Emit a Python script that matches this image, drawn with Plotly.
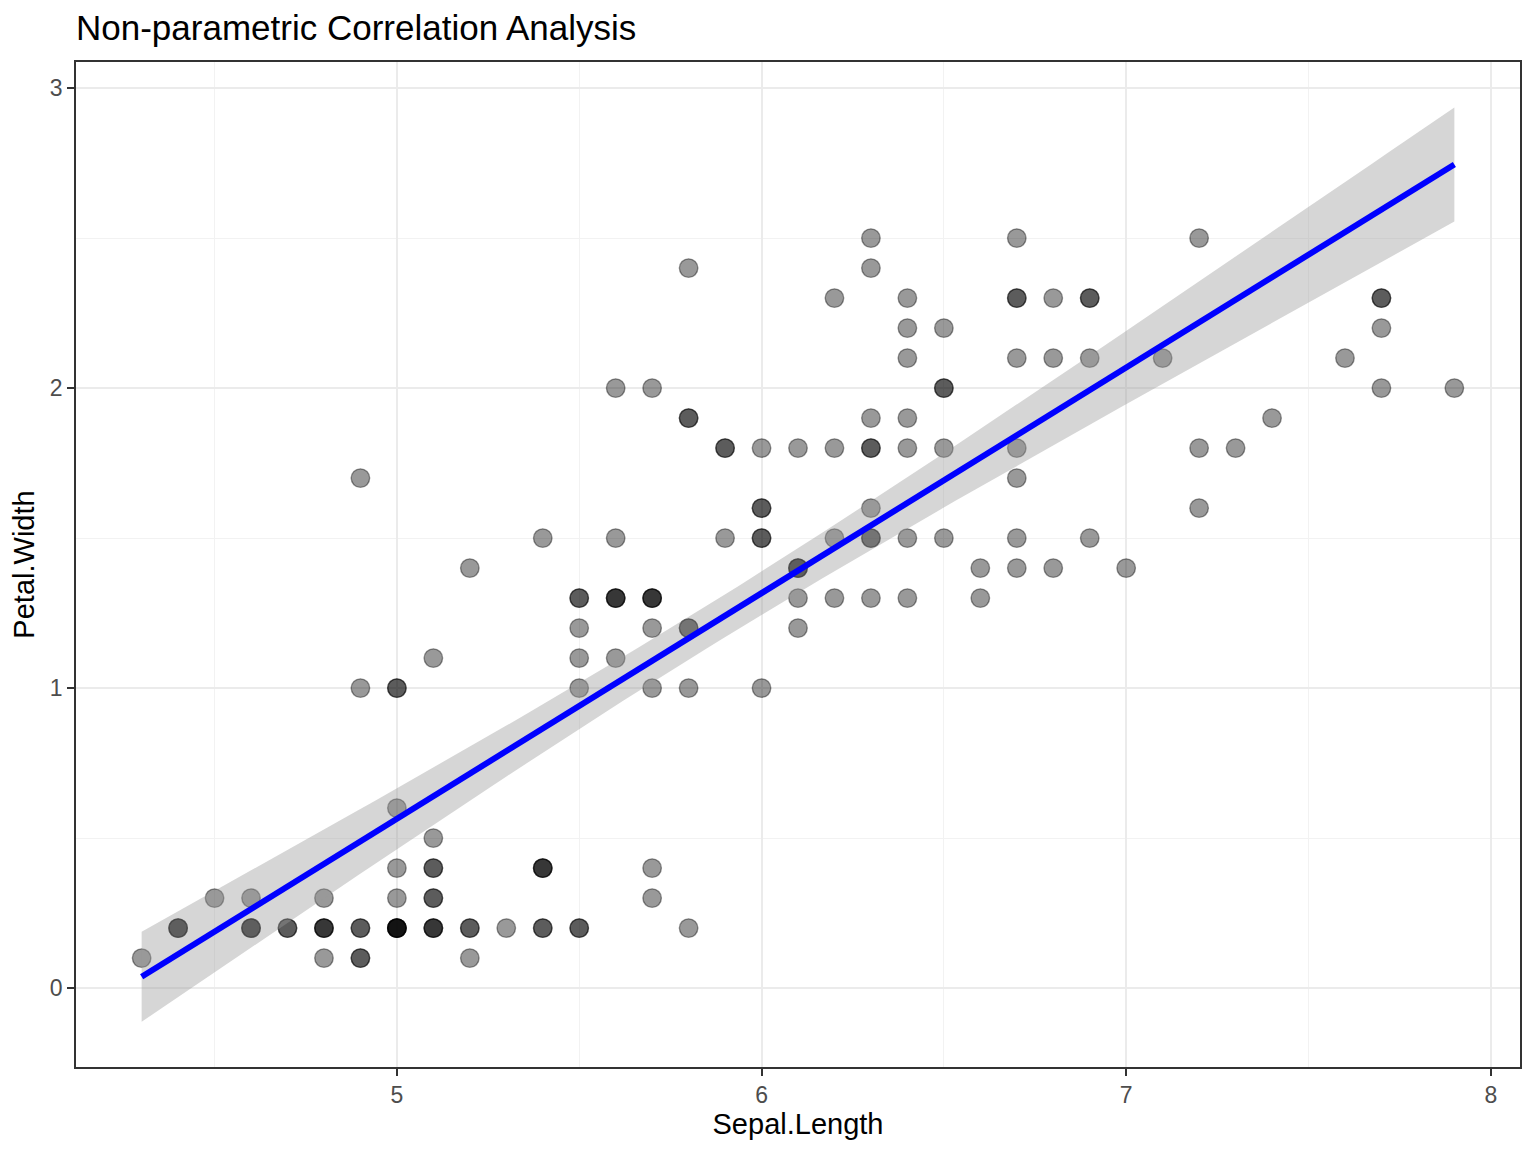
import numpy as np
import plotly.graph_objects as go

# iris: Sepal.Length vs Petal.Width
sepal_length = [
    5.1, 4.9, 4.7, 4.6, 5.0, 5.4, 4.6, 5.0, 4.4, 4.9, 5.4, 4.8, 4.8, 4.3, 5.8, 5.7, 5.4, 5.1, 5.7, 5.1,
    5.4, 5.1, 4.6, 5.1, 4.8, 5.0, 5.0, 5.2, 5.2, 4.7, 4.8, 5.4, 5.2, 5.5, 4.9, 5.0, 5.5, 4.9, 4.4, 5.1,
    5.0, 4.5, 4.4, 5.0, 5.1, 4.8, 5.1, 4.6, 5.3, 5.0,
    7.0, 6.4, 6.9, 5.5, 6.5, 5.7, 6.3, 4.9, 6.6, 5.2, 5.0, 5.9, 6.0, 6.1, 5.6, 6.7, 5.6, 5.8, 6.2, 5.6,
    5.9, 6.1, 6.3, 6.1, 6.4, 6.6, 6.8, 6.7, 6.0, 5.7, 5.5, 5.5, 5.8, 6.0, 5.4, 6.0, 6.7, 6.3, 5.6, 5.5,
    5.5, 6.1, 5.8, 5.0, 5.6, 5.7, 5.7, 6.2, 5.1, 5.7,
    6.3, 5.8, 7.1, 6.3, 6.5, 7.6, 4.9, 7.3, 6.7, 7.2, 6.5, 6.4, 6.8, 5.7, 5.8, 6.4, 6.5, 7.7, 7.7, 6.0,
    6.9, 5.6, 7.7, 6.3, 6.7, 7.2, 6.2, 6.1, 6.4, 7.2, 7.4, 7.9, 6.4, 6.3, 6.1, 7.7, 6.3, 6.4, 6.0, 6.9,
    6.7, 6.9, 5.8, 6.8, 6.7, 6.7, 6.3, 6.5, 6.2, 5.9,
]
petal_width = [
    0.2, 0.2, 0.2, 0.2, 0.2, 0.4, 0.3, 0.2, 0.2, 0.1, 0.2, 0.2, 0.1, 0.1, 0.2, 0.4, 0.4, 0.3, 0.3, 0.3,
    0.2, 0.4, 0.2, 0.5, 0.2, 0.2, 0.4, 0.2, 0.2, 0.2, 0.2, 0.4, 0.1, 0.2, 0.2, 0.2, 0.2, 0.1, 0.2, 0.2,
    0.3, 0.3, 0.2, 0.6, 0.4, 0.3, 0.2, 0.2, 0.2, 0.2,
    1.4, 1.5, 1.5, 1.3, 1.5, 1.3, 1.6, 1.0, 1.3, 1.4, 1.0, 1.5, 1.0, 1.4, 1.3, 1.4, 1.5, 1.0, 1.5, 1.1,
    1.8, 1.3, 1.5, 1.2, 1.3, 1.4, 1.4, 1.7, 1.5, 1.0, 1.1, 1.0, 1.2, 1.6, 1.5, 1.6, 1.5, 1.3, 1.3, 1.3,
    1.2, 1.4, 1.2, 1.0, 1.3, 1.2, 1.3, 1.3, 1.1, 1.3,
    2.5, 1.9, 2.1, 1.8, 2.2, 2.1, 1.7, 1.8, 1.8, 2.5, 2.0, 1.9, 2.1, 2.0, 2.4, 2.3, 1.8, 2.2, 2.3, 1.5,
    2.3, 2.0, 2.0, 1.8, 2.1, 1.8, 1.8, 1.8, 2.1, 1.6, 1.9, 2.0, 2.2, 1.5, 1.4, 2.3, 2.4, 1.8, 1.8, 2.1,
    2.3, 2.3, 1.9, 2.3, 2.5, 2.3, 1.9, 2.0, 2.3, 1.8,
]

x = np.array(sepal_length)
y = np.array(petal_width)

# linear fit with 95% confidence band (like geom_smooth(method="lm"))
n = len(x)
b1, b0 = np.polyfit(x, y, 1)
resid = y - (b0 + b1 * x)
s = np.sqrt(np.sum(resid ** 2) / (n - 2))
xs = np.linspace(x.min(), x.max(), 80)
ys = b0 + b1 * xs
se = s * np.sqrt(1 / n + (xs - x.mean()) ** 2 / np.sum((x - x.mean()) ** 2))
t = 1.976  # t(0.975, 148)
lo = ys - t * se
hi = ys + t * se

FONT = "Liberation Sans, Arial, sans-serif"

fig = go.Figure()
fig.add_trace(go.Scatter(
    x=x, y=y, mode="markers",
    marker=dict(size=18.5, color="rgba(0,0,0,0.4)", line=dict(width=1.4, color="rgba(0,0,0,0.4)")),
    hoverinfo="x+y", showlegend=False,
))
fig.add_trace(go.Scatter(
    x=np.concatenate([xs, xs[::-1]]), y=np.concatenate([hi, lo[::-1]]),
    fill="toself", fillcolor="rgba(153,153,153,0.4)", line=dict(width=0),
    mode="lines", hoverinfo="skip", showlegend=False,
))
fig.add_trace(go.Scatter(
    x=xs, y=ys, mode="lines", line=dict(color="#0000FF", width=6),
    hoverinfo="skip", showlegend=False,
))

axis_common = dict(
    showline=True, linecolor="#333333", linewidth=1.5, mirror=True,
    ticks="outside", ticklen=7, tickwidth=2, tickcolor="#333333",
    tickfont=dict(family=FONT, size=23, color="#4d4d4d"),
    showgrid=True, gridcolor="#ebebeb", gridwidth=2, zeroline=False,
)

# page body has an 8px margin, so the figure is 1528x1144
fig.update_layout(
    width=1528, height=1144,
    paper_bgcolor="white", plot_bgcolor="white",
    margin=dict(l=68, r=16, t=54, b=85),
    title=dict(text="Non-parametric Correlation Analysis", x=68 / 1528, xanchor="left",
               y=1 - 20 / 1144, yanchor="middle",
               font=dict(family=FONT, size=35, color="black")),
    xaxis=dict(range=[4.12, 8.08], tick0=5, dtick=1,
               minor=dict(tick0=4.5, dtick=1, showgrid=True, gridcolor="#f2f2f2", gridwidth=1, ticks=""),
               title=dict(text="Sepal.Length", standoff=6,
                          font=dict(family=FONT, size=29, color="black")),
               **axis_common),
    yaxis=dict(range=[-0.263, 3.087], tick0=0, dtick=1,
               minor=dict(tick0=0.5, dtick=1, showgrid=True, gridcolor="#f2f2f2", gridwidth=1, ticks=""),
               title=dict(text="Petal.Width", standoff=7,
                          font=dict(family=FONT, size=29, color="black")),
               **axis_common),
)

fig.write_html("out.html")
